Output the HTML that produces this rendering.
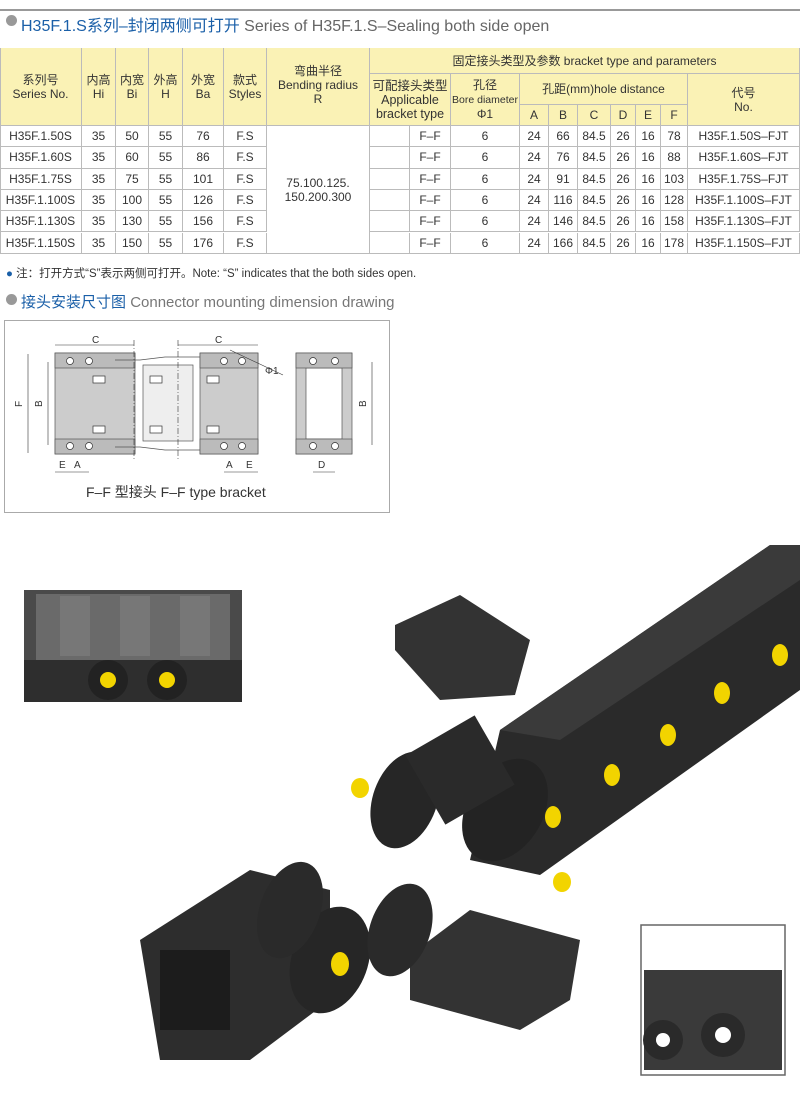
<!DOCTYPE html>
<html><head><meta charset="utf-8"><style>
*{margin:0;padding:0;box-sizing:border-box}
body{width:800px;height:1093px;background:#fff;position:relative;overflow:hidden;font-family:"Liberation Sans","Noto Sans CJK SC",sans-serif;color:#333}
.a{position:absolute}
.c{position:absolute;display:flex;align-items:center;justify-content:center;text-align:center;font-size:12px;line-height:14px;color:#333;border-right:1px solid #bbb;border-bottom:1px solid #bbb}
.h{background:#faf2b5}
</style></head><body>
<div class="a" style="left:0;top:9px;width:800px;height:2px;background:#999"></div>
<div class="a" style="left:6px;top:15px;width:11px;height:11px;border-radius:50%;background:#999"></div>
<div class="a" style="left:21px;top:12px;font-size:16px;white-space:nowrap"><span style="color:#1a5fa8">H35F.1.S系列–封闭两侧可打开</span> <span style="color:#666">Series of H35F.1.S–Sealing both side open</span></div>

<div class="c h" style="left:0;top:48px;width:82px;height:78px">系列号<br>Series No.</div>
<div class="c h" style="left:82px;top:48px;width:34px;height:78px">内高<br>Hi</div>
<div class="c h" style="left:116px;top:48px;width:33px;height:78px">内宽<br>Bi</div>
<div class="c h" style="left:149px;top:48px;width:34px;height:78px">外高<br>H</div>
<div class="c h" style="left:183px;top:48px;width:41px;height:78px">外宽<br>Ba</div>
<div class="c h" style="left:224px;top:48px;width:43px;height:78px">款式<br>Styles</div>
<div class="c h" style="left:267px;top:48px;width:103px;height:78px;align-items:flex-start;padding-top:16px">弯曲半径<br>Bending radius<br>R</div>
<div class="c h" style="left:370px;top:48px;width:430px;height:26px">固定接头类型及参数 bracket type and parameters</div>
<div class="c h" style="left:370px;top:74px;width:81px;height:52px;font-size:12.5px">可配接头类型<br>Applicable<br>bracket type</div>
<div class="c h" style="left:451px;top:74px;width:69px;height:52px;font-size:12px"><div>孔径<br><span style="font-size:10.5px">Bore diameter</span><br>Φ1</div></div>
<div class="c h" style="left:520px;top:74px;width:168px;height:31px">孔距(mm)hole distance</div>
<div class="c h" style="left:688px;top:74px;width:112px;height:52px;align-items:flex-start;padding-top:12px">代号<br>No.</div>
<div class="c h" style="left:520px;top:105px;width:29px;height:21px">A</div>
<div class="c h" style="left:549px;top:105px;width:29px;height:21px">B</div>
<div class="c h" style="left:578px;top:105px;width:33px;height:21px">C</div>
<div class="c h" style="left:611px;top:105px;width:25px;height:21px">D</div>
<div class="c h" style="left:636px;top:105px;width:25px;height:21px">E</div>
<div class="c h" style="left:661px;top:105px;width:27px;height:21px">F</div>
<div class="c" style="left:267px;top:126px;width:103px;height:128px">75.100.125.<br>150.200.300</div>
<div id="rows"></div>
<script>
var d=[["H35F.1.50S",50,76,66,78],["H35F.1.60S",60,86,76,88],["H35F.1.75S",75,101,91,103],["H35F.1.100S",100,126,116,128],["H35F.1.130S",130,156,146,158],["H35F.1.150S",150,176,166,178]];
var h="";
function c(x,y,w,t){h+='<div class="c" style="left:'+x+'px;top:'+y+'px;width:'+w+'px;height:21.3px">'+t+'</div>';}
d.forEach(function(r,i){var y=126+i*21.3;
c(0,y,82,r[0]);c(82,y,34,35);c(116,y,33,r[1]);c(149,y,34,55);c(183,y,41,r[2]);c(224,y,43,"F.S");
c(370,y,40,"");c(410,y,41,"F–F");c(451,y,69,6);c(520,y,29,24);c(549,y,29,r[3]);c(578,y,33,"84.5");c(611,y,25,26);c(636,y,25,16);c(661,y,27,r[4]);c(688,y,112,r[0]+"–FJT");});
document.getElementById("rows").innerHTML=h;
</script>
<div class="a" style="left:0;top:48px;width:1px;height:206px;background:#bbb"></div>
<div class="a" style="left:6px;top:265px;font-size:11.5px;white-space:nowrap;color:#333"><span style="color:#1a5fa8">●</span> 注：打开方式“S”表示两侧可打开。Note: “S” indicates that the both sides open.</div>

<div class="a" style="left:6px;top:294px;width:11px;height:11px;border-radius:50%;background:#999"></div>
<div class="a" style="left:21px;top:291px;font-size:15px;white-space:nowrap"><span style="color:#1a5fa8">接头安装尺寸图</span> <span style="color:#777">Connector mounting dimension drawing</span></div>

<svg class="a" style="left:0;top:300px" width="400" height="220" font-family="Liberation Sans" font-size="10" fill="#333">
<rect x="4.5" y="20.5" width="385" height="192" fill="#fff" stroke="#aaa"/>
<g fill="#ccc" stroke="#555" stroke-width="0.7">
<rect x="55" y="53" width="80" height="101"/>
<rect x="200" y="53" width="58" height="101"/>
<rect x="143" y="65" width="50" height="76" fill="#eee"/>
<rect x="296" y="53" width="56" height="101"/>
<rect x="306" y="68" width="36" height="71" fill="#fff"/>
<rect x="55" y="53" width="80" height="15" fill="#bbb"/><rect x="55" y="139" width="80" height="15" fill="#bbb"/>
<rect x="200" y="53" width="58" height="15" fill="#bbb"/><rect x="200" y="139" width="58" height="15" fill="#bbb"/>
<rect x="296" y="53" width="56" height="15" fill="#bbb"/><rect x="296" y="139" width="56" height="15" fill="#bbb"/>
<polyline points="115,60 140,60 165,57 200,57" fill="none"/><polyline points="115,147 140,147 165,150 200,150" fill="none"/>
</g>
<g fill="#fff" stroke="#333" stroke-width="0.7">
<rect x="93" y="76" width="12" height="7"/><rect x="93" y="126" width="12" height="7"/>
<rect x="150" y="76" width="12" height="7"/><rect x="150" y="126" width="12" height="7"/>
<rect x="207" y="76" width="12" height="7"/><rect x="207" y="126" width="12" height="7"/>
<circle cx="70" cy="61" r="3.5"/><circle cx="89" cy="61" r="3.5"/><circle cx="70" cy="146" r="3.5"/><circle cx="89" cy="146" r="3.5"/>
<circle cx="224" cy="61" r="3.5"/><circle cx="242" cy="61" r="3.5"/><circle cx="224" cy="146" r="3.5"/><circle cx="242" cy="146" r="3.5"/>
<circle cx="313" cy="61" r="3.5"/><circle cx="335" cy="61" r="3.5"/><circle cx="313" cy="146" r="3.5"/><circle cx="335" cy="146" r="3.5"/>
</g>
<g stroke="#333" stroke-width="0.6" fill="none">
<line x1="55" y1="45" x2="134" y2="45"/><line x1="178" y1="45" x2="258" y2="45"/>
<line x1="28" y1="54" x2="28" y2="153"/><line x1="48" y1="62" x2="48" y2="145"/>
<line x1="372" y1="62" x2="372" y2="145"/>
<line x1="55" y1="172" x2="89" y2="172"/><line x1="224" y1="172" x2="258" y2="172"/><line x1="313" y1="172" x2="335" y2="172"/>
<line x1="230" y1="50" x2="283" y2="75"/>
<line x1="134" y1="40" x2="134" y2="160" stroke-dasharray="6,2,1,2"/><line x1="178" y1="40" x2="178" y2="160" stroke-dasharray="6,2,1,2"/>
</g>
<text x="92" y="43">C</text><text x="215" y="43">C</text><text x="265" y="74">Φ1</text>
<text x="22" y="107" transform="rotate(-90 22 107)">F</text><text x="42" y="107" transform="rotate(-90 42 107)">B</text><text x="366" y="107" transform="rotate(-90 366 107)">B</text>
<text x="59" y="168">E</text><text x="74" y="168">A</text><text x="226" y="168">A</text><text x="246" y="168">E</text><text x="318" y="168">D</text>
<text x="86" y="197" font-size="14" font-family="Liberation Sans,Noto Sans CJK SC">F–F 型接头  F–F type bracket</text>
</svg>

<svg class="a" style="left:0;top:530px" width="800" height="563">
<g>
<rect x="24" y="60" width="218" height="110" fill="#4a4a4a"/>
<rect x="36" y="64" width="194" height="66" fill="#6a6a6a"/>
<rect x="60" y="66" width="30" height="60" fill="#777"/><rect x="120" y="66" width="30" height="60" fill="#777"/><rect x="180" y="66" width="30" height="60" fill="#777"/>
<rect x="24" y="130" width="218" height="42" fill="#2e2e2e"/>
<circle cx="108" cy="150" r="20" fill="#222"/><circle cx="167" cy="150" r="20" fill="#222"/>
<circle cx="108" cy="150" r="8" fill="#f2d400"/><circle cx="167" cy="150" r="8" fill="#f2d400"/>
</g>
<polygon points="500,200 770,15 800,15 800,160 540,345 470,330" fill="#2a2a2a"/>
<polygon points="500,200 770,15 800,15 800,50 560,210" fill="#3a3a3a"/>
<ellipse cx="505" cy="280" rx="38" ry="55" transform="rotate(30 505 280)" fill="#232323"/>
<g fill="#f2d400">
<ellipse cx="553" cy="287" rx="8" ry="11"/><ellipse cx="612" cy="245" rx="8" ry="11"/><ellipse cx="668" cy="205" rx="8" ry="11"/><ellipse cx="722" cy="163" rx="8" ry="11"/><ellipse cx="780" cy="125" rx="8" ry="11"/>
</g>
<polygon points="395,95 460,65 530,110 515,165 440,170 395,120" fill="#333"/>
<polygon points="410,425 470,380 580,410 570,470 520,500 410,470" fill="#333"/>
<ellipse cx="405" cy="270" rx="32" ry="50" transform="rotate(20 405 270)" fill="#262626"/>
<rect x="420" y="200" width="80" height="80" fill="#2a2a2a" transform="rotate(-30 460 240)"/>
<polygon points="140,410 250,340 330,360 330,470 250,530 160,530" fill="#2d2d2d"/>
<rect x="160" y="420" width="70" height="80" fill="#1c1c1c"/>
<ellipse cx="330" cy="430" rx="38" ry="55" transform="rotate(20 330 430)" fill="#262626"/>
<ellipse cx="400" cy="400" rx="30" ry="48" transform="rotate(20 400 400)" fill="#2a2a2a"/>
<ellipse cx="290" cy="380" rx="30" ry="50" transform="rotate(20 290 380)" fill="#2a2a2a"/>
<ellipse cx="340" cy="434" rx="9" ry="12" fill="#f2d400"/>
<ellipse cx="360" cy="258" rx="9" ry="10" fill="#f2d400"/>
<ellipse cx="562" cy="352" rx="9" ry="10" fill="#f2d400"/>
<rect x="641" y="395" width="144" height="150" fill="#fff" stroke="#666" stroke-width="1.5"/>
<rect x="644" y="440" width="138" height="100" fill="#3a3a3a"/>
<circle cx="663" cy="510" r="20" fill="#2a2a2a"/><circle cx="723" cy="505" r="22" fill="#2a2a2a"/>
<circle cx="663" cy="510" r="7" fill="#fff"/><circle cx="723" cy="505" r="8" fill="#fff"/>
</svg>
</body></html>
